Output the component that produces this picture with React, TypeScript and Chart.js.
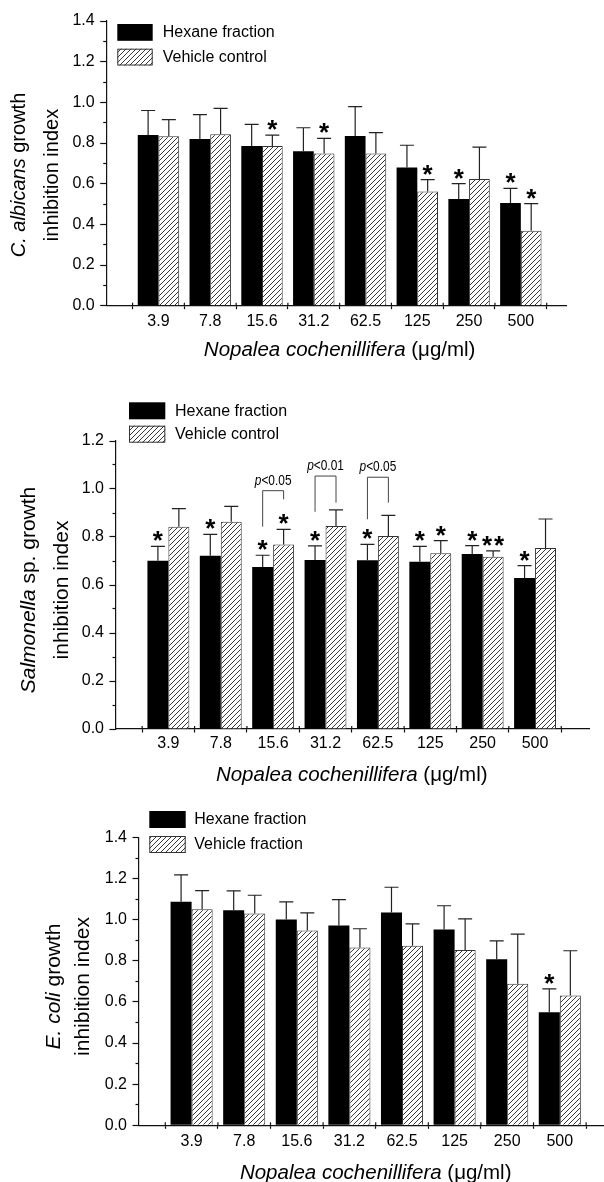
import React, { useEffect, useRef } from 'react';
import { Chart, registerables } from 'chart.js';

Chart.register(...registerables);

const FONT = "'Liberation Sans', Arial, Helvetica, sans-serif";
Chart.defaults.font.family = FONT;
Chart.defaults.color = '#000';

const categories = ['3.9', '7.8', '15.6', '31.2', '62.5', '125', '250', '500'];

// Panel 1 – C. albicans
const albicansHexane = [0.84, 0.82, 0.785, 0.76, 0.835, 0.68, 0.525, 0.505];
const albicansHexaneSD = [0.12, 0.12, 0.107, 0.115, 0.144, 0.109, 0.075, 0.072];
const albicansVehicle = [0.833, 0.843, 0.785, 0.749, 0.749, 0.561, 0.623, 0.369];
const albicansVehicleSD = [0.082, 0.127, 0.054, 0.074, 0.102, 0.059, 0.157, 0.133];
const albicansHexaneSig = ['', '', '', '', '', '', '*', '*'];
const albicansVehicleSig = ['', '', '*', '*', '', '*', '', '*'];

// Panel 2 – Salmonella sp.
const salmonellaHexane = [0.701, 0.722, 0.675, 0.704, 0.703, 0.697, 0.729, 0.629];
const salmonellaHexaneSD = [0.06, 0.089, 0.049, 0.059, 0.066, 0.064, 0.035, 0.052];
const salmonellaVehicle = [0.843, 0.864, 0.769, 0.846, 0.804, 0.732, 0.718, 0.754];
const salmonellaVehicleSD = [0.075, 0.064, 0.063, 0.067, 0.086, 0.053, 0.024, 0.121];
const salmonellaHexaneSig = ['*', '*', '*', '*', '*', '*', '*', '*'];
const salmonellaVehicleSig = ['', '', '*', '', '', '*', '**', ''];
const salmonellaBracketCats = [2, 3, 4];
const salmonellaBracketLabels = ['p<0.05', 'p<0.01', 'p<0.05'];
const salmonellaBracketTop = [0.993, 1.054, 1.049];
const salmonellaBracketLeftEnd = [0.843, 0.905, 0.874];
const salmonellaBracketRightEnd = [0.957, 0.943, 0.943];

// Panel 3 – E. coli
const coliHexane = [1.087, 1.046, 1.001, 0.972, 1.035, 0.952, 0.808, 0.55];
const coliHexaneSD = [0.131, 0.094, 0.086, 0.126, 0.123, 0.116, 0.089, 0.114];
const coliVehicle = [1.051, 1.03, 0.947, 0.865, 0.874, 0.853, 0.688, 0.631];
const coliVehicleSD = [0.091, 0.089, 0.086, 0.091, 0.106, 0.151, 0.242, 0.218];
const coliHexaneSig = ['', '', '', '', '', '', '', '*'];
const coliVehicleSig = ['', '', '', '', '', '', '', ''];

const yTicks14 = [0, 0.2, 0.4, 0.6, 0.8, 1.0, 1.2, 1.4];
const yMinor14 = [0.1, 0.3, 0.5, 0.7, 0.9, 1.1, 1.3];
const yTicks12 = [0, 0.2, 0.4, 0.6, 0.8, 1.0, 1.2];
const yMinor12 = [0.1, 0.3, 0.5, 0.7, 0.9, 1.1];

type Run = { t: string; i?: boolean };

interface PanelCfg {
  top: number;
  height: number;
  left: number;
  right: number;
  plotTop: number;
  plotBottom: number;
  xMin: number;
  xMax: number;
  yMax: number;
  yTicks: number[];
  yMinor: number[];
  hex: number[];
  hexSd: number[];
  veh: number[];
  vehSd: number[];
  hexSig: string[];
  vehSig: string[];
  legendLabels: string[];
  legend: { x: number; y1: number; y2: number; w: number; h: number; textX: number };
  xLabelPad: number;
  xTitleY: number;
  yTitle: Run[][];
  yTitleX: number[];
  yTitleY: number;
  yTitleSize: number;
  brackets?: { cats: number[]; labels: string[]; top: number[]; left: number[]; right: number[] };
}

const panels: PanelCfg[] = [
  {
    top: 0, height: 390, left: 106.7, right: 566.7, plotTop: 21, plotBottom: 305.7,
    xMin: -1, xMax: 7.886, yMax: 1.4, yTicks: yTicks14, yMinor: yMinor14,
    hex: albicansHexane, hexSd: albicansHexaneSD, veh: albicansVehicle, vehSd: albicansVehicleSD,
    hexSig: albicansHexaneSig, vehSig: albicansVehicleSig,
    legendLabels: ['Hexane fraction', 'Vehicle control'],
    legend: { x: 117.3, y1: 24, y2: 48.7, w: 35.4, h: 16.8, textX: 162.7 },
    xLabelPad: 6.7, xTitleY: 350,
    yTitle: [[{ t: 'C. albicans', i: true }, { t: ' growth' }], [{ t: 'inhibition index' }]],
    yTitleX: [19.2, 52], yTitleY: 175, yTitleSize: 20,
  },
  {
    top: 390, height: 408, left: 116, right: 589, plotTop: 51, plotBottom: 339,
    xMin: -1, xMax: 8.03, yMax: 1.2, yTicks: yTicks12, yMinor: yMinor12,
    hex: salmonellaHexane, hexSd: salmonellaHexaneSD, veh: salmonellaVehicle, vehSd: salmonellaVehicleSD,
    hexSig: salmonellaHexaneSig, vehSig: salmonellaVehicleSig,
    legendLabels: ['Hexane fraction', 'Vehicle control'],
    legend: { x: 129, y1: 12.3, y2: 35.7, w: 36.3, h: 17, textX: 175 },
    xLabelPad: 5.4, xTitleY: 385,
    yTitle: [[{ t: 'Salmonella', i: true }, { t: ' sp. growth' }], [{ t: 'inhibition index' }]],
    yTitleX: [29, 62], yTitleY: 200, yTitleSize: 21,
    brackets: {
      cats: salmonellaBracketCats, labels: salmonellaBracketLabels, top: salmonellaBracketTop,
      left: salmonellaBracketLeftEnd, right: salmonellaBracketRightEnd,
    },
  },
  {
    top: 798, height: 384, left: 139, right: 604, plotTop: 39.5, plotBottom: 327.3,
    xMin: -1, xMax: 7.84, yMax: 1.4, yTicks: yTicks14, yMinor: yMinor14,
    hex: coliHexane, hexSd: coliHexaneSD, veh: coliVehicle, vehSd: coliVehicleSD,
    hexSig: coliHexaneSig, vehSig: coliVehicleSig,
    legendLabels: ['Hexane fraction', 'Vehicle fraction'],
    legend: { x: 149.3, y1: 13, y2: 38, w: 36.4, h: 17, textX: 194.3 },
    xLabelPad: 7.1, xTitleY: 375,
    yTitle: [[{ t: 'E. coli', i: true }, { t: ' growth' }], [{ t: 'inhibition index' }]],
    yTitleX: [54.4, 83.5], yTitleY: 188.5, yTitleSize: 21,
  },
];

function makeHatch(): CanvasPattern {
  const s = 5;
  const c = document.createElement('canvas');
  c.width = s;
  c.height = s;
  const g = c.getContext('2d')!;
  g.fillStyle = '#fff';
  g.fillRect(0, 0, s, s);
  g.strokeStyle = '#222';
  g.lineWidth = 0.9;
  g.beginPath();
  g.moveTo(0, s);
  g.lineTo(s, 0);
  g.moveTo(-1, 1);
  g.lineTo(1, -1);
  g.moveTo(s - 1, s + 1);
  g.lineTo(s + 1, s - 1);
  g.stroke();
  return g.createPattern(c, 'repeat')!;
}

function drawRuns(ctx: CanvasRenderingContext2D, runs: Run[], cx: number, cy: number, size: number) {
  const fontOf = (r: Run) => `${r.i ? 'italic ' : ''}${size}px ${FONT}`;
  let total = 0;
  const widths = runs.map((r) => {
    ctx.font = fontOf(r);
    const w = ctx.measureText(r.t).width;
    total += w;
    return w;
  });
  let x = cx - total / 2;
  ctx.textAlign = 'left';
  ctx.textBaseline = 'middle';
  runs.forEach((r, k) => {
    ctx.font = fontOf(r);
    ctx.fillText(r.t, x, cy);
    x += widths[k];
  });
}

function drawStars(ctx: CanvasRenderingContext2D, s: string, cx: number, cy: number) {
  ctx.font = `bold 26px ${FONT}`;
  ctx.textAlign = 'center';
  ctx.textBaseline = 'alphabetic';
  const m = ctx.measureText('*');
  const base = cy + (m.actualBoundingBoxAscent - m.actualBoundingBoxDescent) / 2;
  const n = s.length;
  const gap = 12;
  for (let k = 0; k < n; k++) {
    const x = cx + (k - (n - 1) / 2) * gap;
    ctx.fillText('*', x, base);
  }
}

function buildConfig(p: PanelCfg): any {
  const W = 604;
  const hatch = makeHatch();
  const boundaries = categories.map((_, i) => i - 0.5).concat([categories.length - 0.5]);
  const axisColor = '#111';

  const annot = {
    id: 'annot',
    afterDatasetsDraw(chart: any) {
      const ctx: CanvasRenderingContext2D = chart.ctx;
      const ys = chart.scales.y;
      const xt = chart.scales.xTicks;
      const area = chart.chartArea;
      ctx.save();
      // inner half of crossing x ticks
      ctx.strokeStyle = axisColor;
      ctx.lineWidth = 1.2;
      xt.ticks.forEach((_: any, i: number) => {
        const px = xt.getPixelForTick(i);
        ctx.beginPath();
        ctx.moveTo(px, area.bottom - 3);
        ctx.lineTo(px, area.bottom);
        ctx.stroke();
      });
      // error bars + significance marks
      const series: [number[], number[], string[]][] = [
        [p.hex, p.hexSd, p.hexSig],
        [p.veh, p.vehSd, p.vehSig],
      ];
      series.forEach(([m, sd, sig], d) => {
        const meta = chart.getDatasetMeta(d);
        meta.data.forEach((el: any, i: number) => {
          const x = el.x;
          const y0 = ys.getPixelForValue(m[i]);
          const y1 = ys.getPixelForValue(m[i] + sd[i]);
          ctx.strokeStyle = '#222';
          ctx.lineWidth = 1.2;
          ctx.beginPath();
          ctx.moveTo(x, y0);
          ctx.lineTo(x, y1);
          ctx.moveTo(x - 7, y1);
          ctx.lineTo(x + 7, y1);
          ctx.stroke();
          if (sig[i]) {
            ctx.fillStyle = '#000';
            drawStars(ctx, sig[i], x, y1 - 10);
          }
        });
      });
      // brackets
      if (p.brackets) {
        const b = p.brackets;
        const m0 = chart.getDatasetMeta(0);
        const m1 = chart.getDatasetMeta(1);
        b.cats.forEach((c, k) => {
          const xl = (m0.data[c] as any).x;
          const xr = (m1.data[c] as any).x;
          const yt = ys.getPixelForValue(b.top[k]);
          ctx.strokeStyle = '#444';
          ctx.lineWidth = 1;
          ctx.beginPath();
          ctx.moveTo(xl, ys.getPixelForValue(b.left[k]));
          ctx.lineTo(xl, yt);
          ctx.lineTo(xr, yt);
          ctx.lineTo(xr, ys.getPixelForValue(b.right[k]));
          ctx.stroke();
          ctx.fillStyle = '#000';
          ctx.save();
          ctx.translate((xl + xr) / 2, yt - 10);
          ctx.scale(0.82, 1);
          drawRuns(ctx, [{ t: b.labels[k].slice(0, 1), i: true }, { t: b.labels[k].slice(1) }], 0, 0, 14.5);
          ctx.restore();
        });
      }
      ctx.restore();
    },
    afterDraw(chart: any) {
      const ctx: CanvasRenderingContext2D = chart.ctx;
      const xs = chart.scales.x;
      ctx.save();
      // legend
      const L = p.legend;
      const ds = chart.data.datasets;
      ctx.fillStyle = ds[0].backgroundColor;
      ctx.fillRect(L.x, L.y1, L.w, L.h);
      ctx.fillStyle = ds[1].backgroundColor;
      ctx.fillRect(L.x, L.y2, L.w, L.h);
      ctx.strokeStyle = '#333';
      ctx.lineWidth = 1;
      ctx.strokeRect(L.x + 0.5, L.y2 + 0.5, L.w - 1, L.h - 1);
      ctx.fillStyle = '#000';
      ctx.font = `16px ${FONT}`;
      ctx.textAlign = 'left';
      ctx.textBaseline = 'middle';
      ctx.fillText(p.legendLabels[0], L.textX, L.y1 + L.h / 2 + 0.5);
      ctx.fillText(p.legendLabels[1], L.textX, L.y2 + L.h / 2 + 0.5);
      // x title
      const cx = (xs.getPixelForValue(-0.5) + xs.getPixelForValue(categories.length - 0.5)) / 2;
      drawRuns(ctx, [{ t: 'Nopalea cochenillifera', i: true }, { t: ' (\u03bcg/ml)' }], cx, p.xTitleY, 20.5);
      // y title (rotated, two lines)
      p.yTitle.forEach((runs, k) => {
        ctx.save();
        ctx.translate(p.yTitleX[k], p.yTitleY);
        ctx.rotate(-Math.PI / 2);
        drawRuns(ctx, runs, 0, 0, p.yTitleSize);
        ctx.restore();
      });
      ctx.restore();
    },
  };

  return {
    type: 'bar',
    data: {
      datasets: [
        {
          label: p.legendLabels[0],
          data: p.hex.map((v, i) => ({ x: i, y: v })),
          backgroundColor: '#000',
          borderWidth: 0,
          xAxisID: 'x',
          yAxisID: 'y',
          categoryPercentage: 0.8,
          barPercentage: 1,
        },
        {
          label: p.legendLabels[1],
          data: p.veh.map((v, i) => ({ x: i, y: v })),
          backgroundColor: hatch,
          borderColor: '#333',
          borderWidth: 1,
          xAxisID: 'x',
          yAxisID: 'y',
          categoryPercentage: 0.8,
          barPercentage: 1,
        },
      ],
    },
    options: {
      responsive: false,
      animation: false,
      events: [],
      layout: { padding: { left: 0, top: p.plotTop, right: W - p.right, bottom: 0 } },
      plugins: { legend: { display: false }, tooltip: { enabled: false }, title: { display: false } },
      scales: {
        x: {
          type: 'linear',
          position: 'bottom',
          weight: 1,
          min: p.xMin,
          max: p.xMax,
          offset: false,
          bounds: 'data',
          afterBuildTicks: (s: any) => {
            s.ticks = categories.map((_, i) => ({ value: i }));
          },
          afterFit: (s: any) => {
            s.height = p.height - p.plotBottom;
          },
          grid: { display: false, drawOnChartArea: false, drawTicks: false, offset: false },
          border: { display: false },
          ticks: {
            autoSkip: false,
            maxRotation: 0,
            padding: p.xLabelPad,
            font: { size: 16, family: FONT },
            color: '#000',
            callback: (v: any) => categories[Math.round(Number(v))] ?? '',
          },
        },
        xTicks: {
          type: 'linear',
          position: 'bottom',
          weight: 0,
          min: p.xMin,
          max: p.xMax,
          offset: false,
          bounds: 'data',
          afterBuildTicks: (s: any) => {
            s.ticks = boundaries.map((v) => ({ value: v }));
          },
          afterFit: (s: any) => {
            s.height = 0;
          },
          grid: { display: true, drawOnChartArea: false, drawTicks: true, tickLength: 3.5, tickWidth: 1.2, tickColor: axisColor, offset: false },
          border: { display: true, color: axisColor, width: 1.2 },
          ticks: { display: false },
        },
        y: {
          type: 'linear',
          position: 'left',
          weight: 1,
          min: 0,
          max: p.yMax,
          afterBuildTicks: (s: any) => {
            s.ticks = p.yTicks.map((v) => ({ value: v }));
          },
          afterFit: (s: any) => {
            s.width = p.left;
          },
          grid: { display: true, drawOnChartArea: false, drawTicks: true, tickLength: 6.5, tickWidth: 1.2, tickColor: axisColor },
          border: { display: true, color: axisColor, width: 1.2 },
          ticks: {
            padding: 5.5,
            font: { size: 16, family: FONT },
            color: '#000',
            callback: (v: any) => Number(v).toFixed(1),
          },
        },
        yMinor: {
          type: 'linear',
          position: 'left',
          weight: 0,
          min: 0,
          max: p.yMax,
          afterBuildTicks: (s: any) => {
            s.ticks = p.yMinor.map((v) => ({ value: v }));
          },
          afterFit: (s: any) => {
            s.width = 0;
          },
          grid: { display: true, drawOnChartArea: false, drawTicks: true, tickLength: 3.5, tickWidth: 1.2, tickColor: axisColor },
          border: { display: false },
          ticks: { display: false },
        },
      },
    },
    plugins: [annot],
  };
}

function Panel({ cfg }: { cfg: PanelCfg }) {
  const ref = useRef<HTMLCanvasElement>(null);
  useEffect(() => {
    const chart = new Chart(ref.current!, buildConfig(cfg));
    return () => chart.destroy();
  }, [cfg]);
  return (
    <canvas
      ref={ref}
      width={604}
      height={cfg.height}
      style={{ position: 'absolute', left: 0, top: cfg.top, width: 604, height: cfg.height, display: 'block' }}
    />
  );
}

export default function App() {
  return (
    <div style={{ position: 'absolute', left: 0, top: 0, width: 604, height: 1182, background: '#fff', overflow: 'hidden' }}>
      {panels.map((cfg, k) => (
        <Panel key={k} cfg={cfg} />
      ))}
    </div>
  );
}
